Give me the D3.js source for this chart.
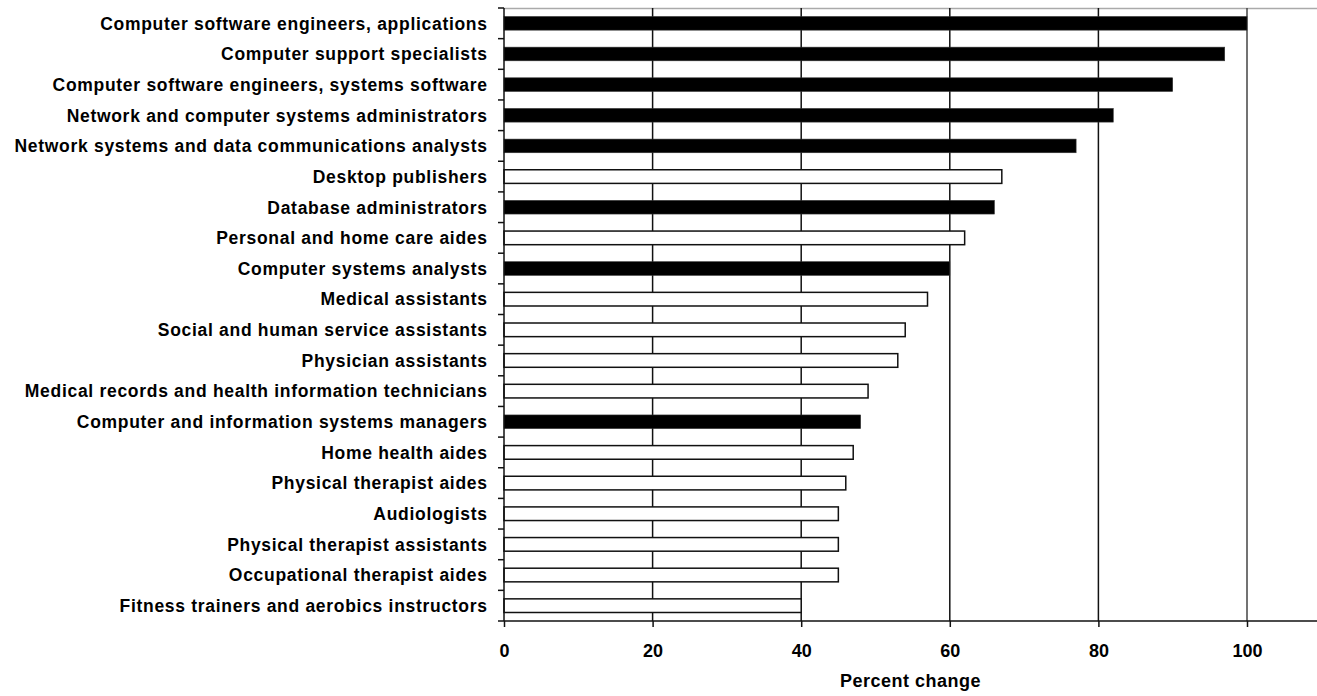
<!DOCTYPE html>
<html>
<head>
<meta charset="utf-8">
<script src="https://cdn.jsdelivr.net/npm/d3@7"></script>
<style>
    body { margin: 0; background: #fff; }
    svg text { font-family: "Liberation Sans", Arial, sans-serif; font-weight: bold; fill: #000; }
</style>
</head>
<body>
<svg id="chart" width="1317" height="696"></svg>
<script>
const occupations = [
    'Computer software engineers, applications',
    'Computer support specialists',
    'Computer software engineers, systems software',
    'Network and computer systems administrators',
    'Network systems and data communications analysts',
    'Desktop publishers',
    'Database administrators',
    'Personal and home care aides',
    'Computer systems analysts',
    'Medical assistants',
    'Social and human service assistants',
    'Physician assistants',
    'Medical records and health information technicians',
    'Computer and information systems managers',
    'Home health aides',
    'Physical therapist aides',
    'Audiologists',
    'Physical therapist assistants',
    'Occupational therapist aides',
    'Fitness trainers and aerobics instructors'
];

const percentChange = [100, 97, 90, 82, 77, 67, 66, 62, 60, 57, 54, 53, 49, 48, 47, 46, 45, 45, 45, 40];

// true = computer occupation (black bar)
const isComputer = [true, true, true, true, true, false, true, false, true, false,
    false, false, false, true, false, false, false, false, false, false];

const xTicks = [0, 20, 40, 60, 80, 100];

const svg = d3.select('#chart');
const margin = { top: 8, left: 504 };
const width = +svg.attr('width');
const bottom = 621;

const x = d3.scaleLinear()
    .domain([0, 110])
    .range([margin.left, margin.left + 7.43 * 110]);

const y = d3.scaleBand()
    .domain(occupations)
    .range([margin.top, bottom])
    .paddingInner(0.555)
    .paddingOuter(0.2775);

// top border
svg.append('line')
    .attr('x1', margin.left).attr('x2', width)
    .attr('y1', margin.top + 0.5).attr('y2', margin.top + 0.5)
    .attr('stroke', '#aaa')
    .attr('stroke-width', 1.5);

// vertical gridlines
svg.append('g')
    .selectAll('line')
    .data(xTicks.filter(d => d > 0))
    .enter()
    .append('line')
    .attr('x1', d => x(d)).attr('x2', d => x(d))
    .attr('y1', margin.top).attr('y2', bottom)
    .attr('stroke', d => d === 100 ? '#444' : '#111')
    .attr('stroke-width', 1.5);

// bars
svg.append('g')
    .selectAll('rect')
    .data(occupations)
    .enter()
    .append('rect')
    .attr('x', x(0))
    .attr('y', d => y(d))
    .attr('width', (d, i) => x(percentChange[i]) - x(0))
    .attr('height', y.bandwidth())
    .attr('fill', (d, i) => isComputer[i] ? '#000' : '#fff')
    .attr('stroke', (d, i) => isComputer[i] ? '#333' : '#111')
    .attr('stroke-width', (d, i) => isComputer[i] ? 0.6 : 1.5);

// left axis: line + ticks at band boundaries
const boundaries = occupations.map(d => y(d) - y.step() * y.paddingInner() / 2);
boundaries.push(bottom);
svg.append('line')
    .attr('x1', x(0)).attr('x2', x(0))
    .attr('y1', margin.top).attr('y2', bottom)
    .attr('stroke', '#111').attr('stroke-width', 1.5);
svg.append('g')
    .selectAll('line')
    .data(boundaries)
    .enter()
    .append('line')
    .attr('x1', x(0) - 6).attr('x2', x(0))
    .attr('y1', d => d).attr('y2', d => d)
    .attr('stroke', '#111').attr('stroke-width', 1.5);

svg.append('g')
    .selectAll('text')
    .data(occupations)
    .enter()
    .append('text')
    .attr('x', 487.7)
    .attr('y', d => y(d) + y.bandwidth() / 2)
    .attr('dy', '0.36em')
    .attr('text-anchor', 'end')
    .style('font-size', '17.5px')
    .style('letter-spacing', '0.7px')
    .text(d => d);

// bottom axis
const xAxis = d3.axisBottom(x)
    .tickValues(xTicks)
    .tickSize(6)
    .tickPadding(17);

const gx = svg.append('g')
    .attr('transform', `translate(0,${bottom})`)
    .call(xAxis);
gx.select('.domain')
    .attr('d', `M${x(0)},0H${width}`)
    .attr('stroke', '#111')
    .attr('stroke-width', 1.5);
gx.selectAll('.tick line').attr('stroke', '#111').attr('stroke-width', 1.5);
gx.selectAll('.tick text')
    .style('font-size', '18px')
    .style('font-family', '"Liberation Sans", Arial, sans-serif')
    .style('font-weight', 'bold');

svg.append('text')
    .attr('x', (x(0) + width) / 2)
    .attr('y', 687)
    .attr('text-anchor', 'middle')
    .style('font-size', '18px')
    .style('letter-spacing', '0.5px')
    .text('Percent change');
</script>
</body>
</html>
